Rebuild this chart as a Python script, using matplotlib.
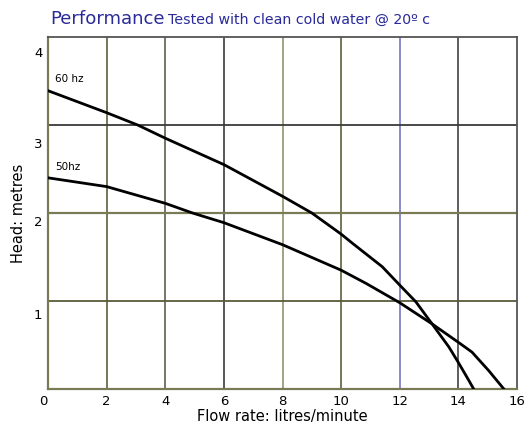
import matplotlib
matplotlib.use("Agg")
import matplotlib.pyplot as plt
import matplotlib.transforms as mtransforms

# 60 hz curve
flow_60 = [0.0, 2.0, 3.06, 4.0, 6.0, 8.0, 9.0, 10.0, 10.37, 11.4, 12.0, 12.55, 13.1, 13.67, 14.0, 14.35, 14.52]
head_60 = [3.39, 3.14, 3.0, 2.85, 2.55, 2.19, 2.0, 1.76, 1.66, 1.39, 1.18, 0.99, 0.74, 0.48, 0.30, 0.10, 0.0]

# 50 hz curve
flow_50 = [0.0, 2.0, 4.0, 4.93, 6.0, 8.0, 10.0, 10.85, 12.0, 13.1, 14.0, 14.46, 15.03, 15.55]
head_50 = [2.40, 2.30, 2.11, 2.0, 1.89, 1.64, 1.35, 1.20, 0.98, 0.74, 0.53, 0.42, 0.21, 0.0]

x_ticks = [0, 2, 4, 6, 8, 10, 12, 14, 16]
y_ticks = [0, 1, 2, 3, 4]
y_tick_labels = ["", "1", "2", "3", "4"]

# grid line colours per position (as in the reference scan)
vgrid_colors = {2: "#6b6b4a", 4: "#6b6b5a", 6: "#4a4a4a", 8: "#9a9a78",
                10: "#6b6b4a", 12: "#8080c8", 14: "#505050"}
hgrid_colors = {1: "#5a5a3a", 2: "#7a7a55", 3: "#3a3a3a"}

fig = plt.figure(figsize=(5.26, 4.33), dpi=100)
ax = fig.add_axes([0.0913, 0.1016, 0.8917, 0.8129])

for x, c in vgrid_colors.items():
    ax.axvline(x, color=c, lw=1.3, zorder=1)
for y, c in hgrid_colors.items():
    ax.axhline(y, color=c, lw=1.6 if y == 2 else 1.3, zorder=1)

ax.plot(flow_60, head_60, color="black", lw=2.0, zorder=3, solid_joinstyle="round")
ax.plot(flow_50, head_50, color="black", lw=2.0, zorder=3, solid_joinstyle="round")

ax.text(0.25, 3.47, "60 hz", fontsize=7.5, color="black", ha="left", va="bottom")
ax.text(0.25, 2.47, "50hz", fontsize=7.5, color="black", ha="left", va="bottom")

ax.set_xlim(0, 16)
ax.set_ylim(0, 4)
ax.set_xticks(x_ticks)
ax.set_yticks(y_ticks)
ax.tick_params(length=0, labelsize=9.5, pad=4)
ax.set_yticklabels(y_tick_labels, va="top")
# the scanned labels sit a little below their grid lines, unevenly
y_label_drop_px = [0, 7.5, 2.5, 12.5, 9.5]
for lbl, d in zip(ax.get_yticklabels(), y_label_drop_px):
    off = mtransforms.ScaledTranslation(0, -d / 100, fig.dpi_scale_trans)
    lbl.set_transform(lbl.get_transform() + off)
xl = ax.get_xticklabels()
xl[0].set_transform(xl[0].get_transform() +
                    mtransforms.ScaledTranslation(-5 / 100, 0, fig.dpi_scale_trans))

for side in ["left", "bottom"]:
    ax.spines[side].set_color("#7a7a55")
    ax.spines[side].set_linewidth(1.6)
for side in ["top", "right"]:
    ax.spines[side].set_color("#555555")
    ax.spines[side].set_linewidth(1.3)

ax.set_xlabel("Flow rate: litres/minute", fontsize=10.5, labelpad=1)
ax.set_ylabel("Head: metres", fontsize=10.5, labelpad=6)

fig.text(0.095, 0.957, "Performance", fontsize=13.1, color="#2a2a9a", ha="left", va="center")
fig.text(0.32, 0.954, "Tested with clean cold water @ 20º c", fontsize=10.2,
         color="#2a2a9a", ha="left", va="center")

fig.savefig("out.png", dpi=100)
